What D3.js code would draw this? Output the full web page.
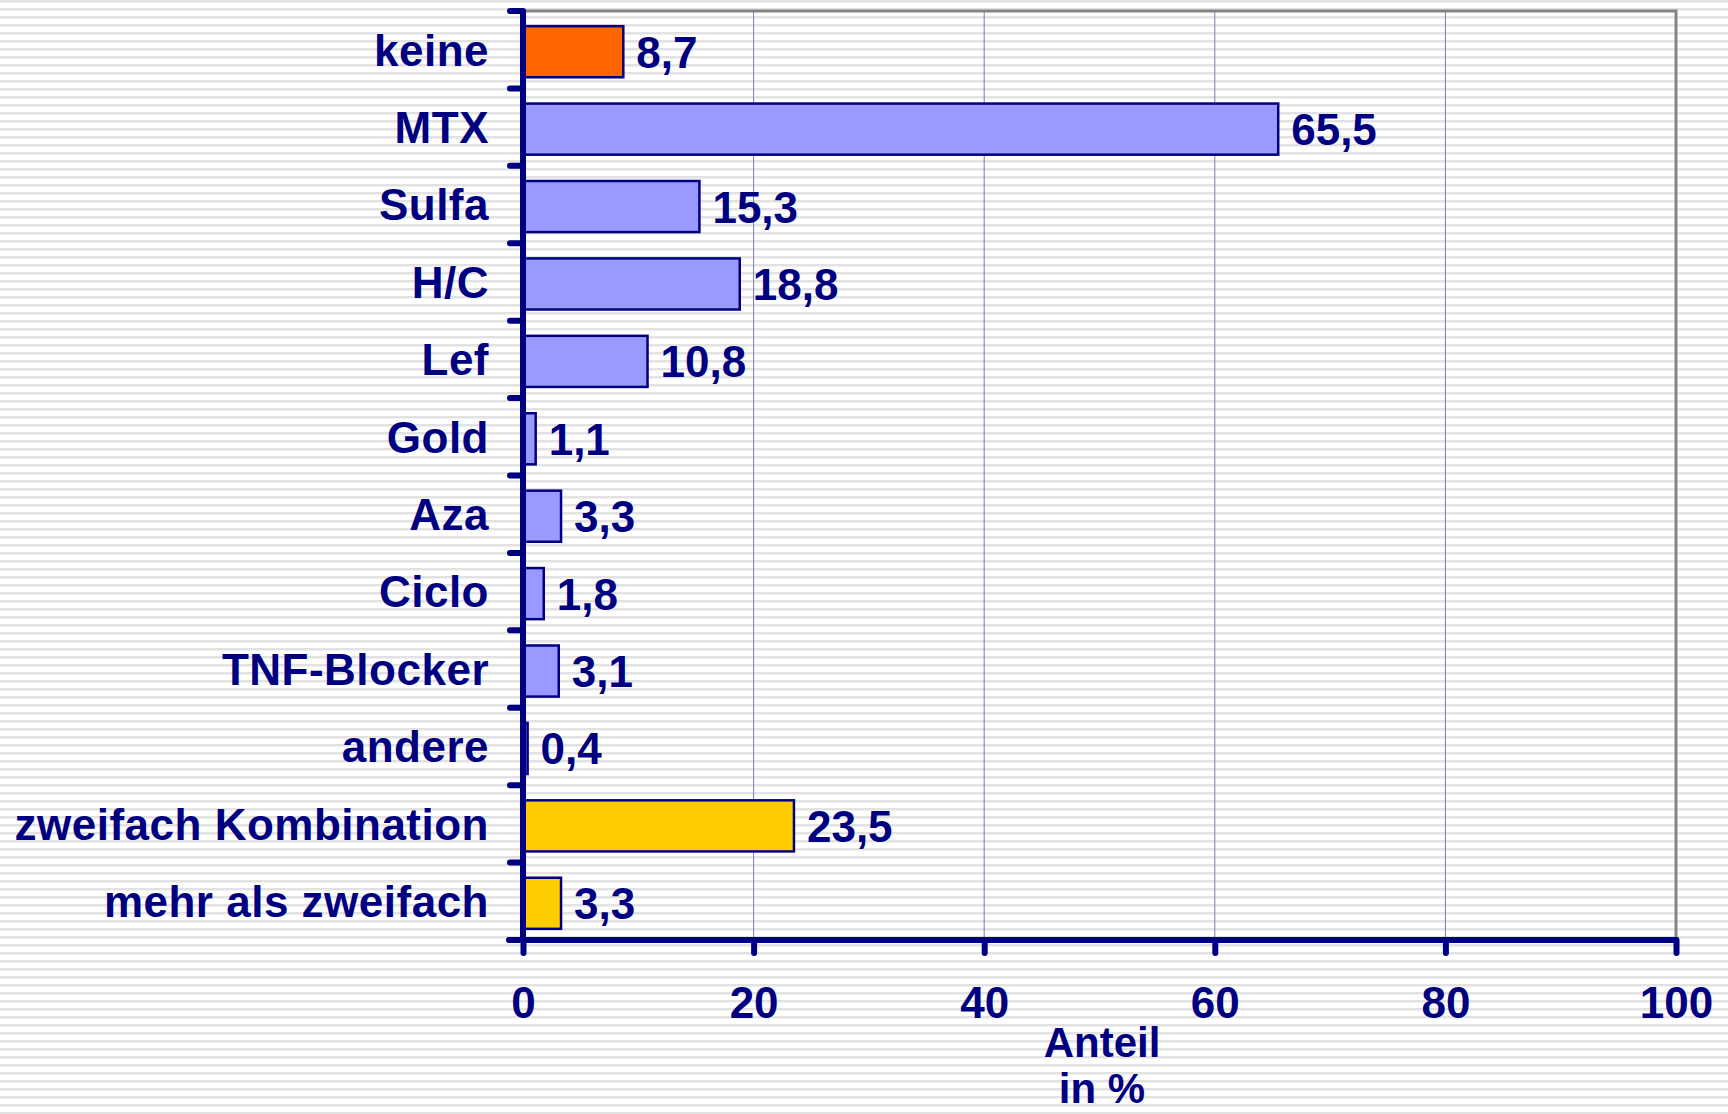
<!DOCTYPE html>
<html>
<head>
<meta charset="utf-8">
<script src="https://cdn.jsdelivr.net/npm/d3@7"></script>
<style>
  html, body { margin: 0; padding: 0; background: #fff; }
  svg { display: block; font-family: "Liberation Sans", Arial, sans-serif; font-weight: bold; }
</style>
</head>
<body>
<div id="chart"></div>
<script>
// categories, values and bar groups
const categories = ['keine', 'MTX', 'Sulfa', 'H/C', 'Lef', 'Gold', 'Aza', 'Ciclo',
  'TNF-Blocker', 'andere', 'zweifach Kombination', 'mehr als zweifach'];
const values = [8.7, 65.5, 15.3, 18.8, 10.8, 1.1, 3.3, 1.8, 3.1, 0.4, 23.5, 3.3];
const groups = ['none', 'single', 'single', 'single', 'single', 'single', 'single',
  'single', 'single', 'single', 'combo', 'combo'];
const xTicks = [0, 20, 40, 60, 80, 100];
const axisTitle = ['Anteil', 'in %'];

const width = 1728;
const height = 1114;
const margin = { top: 11, right: 52, bottom: 174, left: 523 };
const navy = '#000080';
const fills = { none: '#ff6600', single: '#9999ff', combo: '#ffcc00' };

const svg = d3.select('#chart')
  .append('svg')
  .attr('width', width)
  .attr('height', height);

// striped background, like the original slide
const pattern = svg.append('defs').append('pattern')
  .attr('id', 'stripes')
  .attr('patternUnits', 'userSpaceOnUse')
  .attr('width', 8)
  .attr('height', 8);
pattern.append('rect').attr('width', 8).attr('height', 8).attr('fill', '#ffffff');
pattern.append('rect').attr('y', 0).attr('width', 8).attr('height', 2).attr('fill', '#e2e2e2');
pattern.append('rect').attr('y', 2).attr('width', 8).attr('height', 1).attr('fill', '#f0f0f0');

svg.append('rect').attr('width', width).attr('height', height).attr('fill', 'url(#stripes)');

const x = d3.scaleLinear()
  .domain([0, 100])
  .range([margin.left, width - margin.right]);

const y = d3.scaleBand()
  .domain(categories)
  .range([margin.top, height - margin.bottom])
  .paddingInner(0.34)
  .paddingOuter(0.17);

const plotTop = margin.top;
const plotBottom = height - margin.bottom;

// gridlines
svg.append('g')
  .selectAll('line')
  .data(xTicks.slice(1, -1))
  .join('line')
  .attr('x1', d => x(d)).attr('x2', d => x(d))
  .attr('y1', plotTop).attr('y2', plotBottom)
  .attr('stroke', '#7a7ab8')
  .attr('stroke-width', 1);

// top and right frame
svg.append('path')
  .attr('d', `M${x(0)},${plotTop}H${x(100)}V${plotBottom}`)
  .attr('fill', 'none')
  .attr('stroke', '#848484')
  .attr('stroke-width', 3);

// bars
svg.append('g')
  .selectAll('rect')
  .data(categories)
  .join('rect')
  .attr('x', x(0))
  .attr('y', d => y(d) + 2)
  .attr('width', (d, i) => x(values[i]) - x(0))
  .attr('height', y.bandwidth())
  .attr('fill', (d, i) => fills[groups[i]])
  .attr('stroke', navy)
  .attr('stroke-width', 2.5);

// value labels
svg.append('g')
  .selectAll('text')
  .data(categories)
  .join('text')
  .attr('x', (d, i) => x(values[i]) + 13)
  .attr('y', d => y(d) + 2 + y.bandwidth() / 2 + 16)
  .attr('fill', navy)
  .attr('font-size', 44)
  .text((d, i) => String(values[i]).replace('.', ','));

// y axis
const yAxis = svg.append('g')
  .attr('transform', `translate(${x(0)},0)`)
  .call(d3.axisLeft(y).tickSize(0).tickPadding(34));
yAxis.select('.domain').remove();
yAxis.selectAll('text')
  .attr('fill', navy)
  .attr('font-size', 44)
  .attr('font-family', '"Liberation Sans", Arial, sans-serif')
  .attr('font-weight', 'bold')
  .attr('letter-spacing', 0.5)
  .attr('dy', '0.36em');

const yTickPos = d3.range(categories.length + 1)
  .map(i => plotTop + i * (plotBottom - plotTop) / categories.length);
svg.append('g')
  .selectAll('line')
  .data(yTickPos)
  .join('line')
  .attr('x1', x(0) - 13).attr('x2', x(0))
  .attr('y1', d => d).attr('y2', d => d)
  .attr('stroke', navy)
  .attr('stroke-width', 6)
  .attr('stroke-linecap', 'round');

svg.append('line')
  .attr('x1', x(0)).attr('x2', x(0))
  .attr('y1', plotTop).attr('y2', plotBottom)
  .attr('stroke', navy)
  .attr('stroke-width', 6);

// x axis
const xAxis = svg.append('g')
  .attr('transform', `translate(0,${plotBottom})`)
  .call(d3.axisBottom(x).tickValues(xTicks).tickSize(13).tickPadding(34));
xAxis.select('.domain')
  .attr('d', `M${x(0) - 14},0H${x(100)}`)
  .attr('stroke', navy)
  .attr('stroke-width', 6)
  .attr('stroke-linecap', 'round');
xAxis.selectAll('line')
  .attr('stroke', navy)
  .attr('stroke-width', 6)
  .attr('stroke-linecap', 'round');
xAxis.selectAll('text')
  .attr('fill', navy)
  .attr('font-size', 44)
  .attr('font-family', '"Liberation Sans", Arial, sans-serif')
  .attr('font-weight', 'bold');

// axis title
svg.append('text')
  .attr('x', 1102)
  .attr('y', 1057)
  .attr('text-anchor', 'middle')
  .attr('fill', navy)
  .attr('font-size', 42)
  .selectAll('tspan')
  .data(axisTitle)
  .join('tspan')
  .attr('x', 1102)
  .attr('dy', (d, i) => i === 0 ? 0 : 46)
  .text(d => d);
</script>
</body>
</html>
